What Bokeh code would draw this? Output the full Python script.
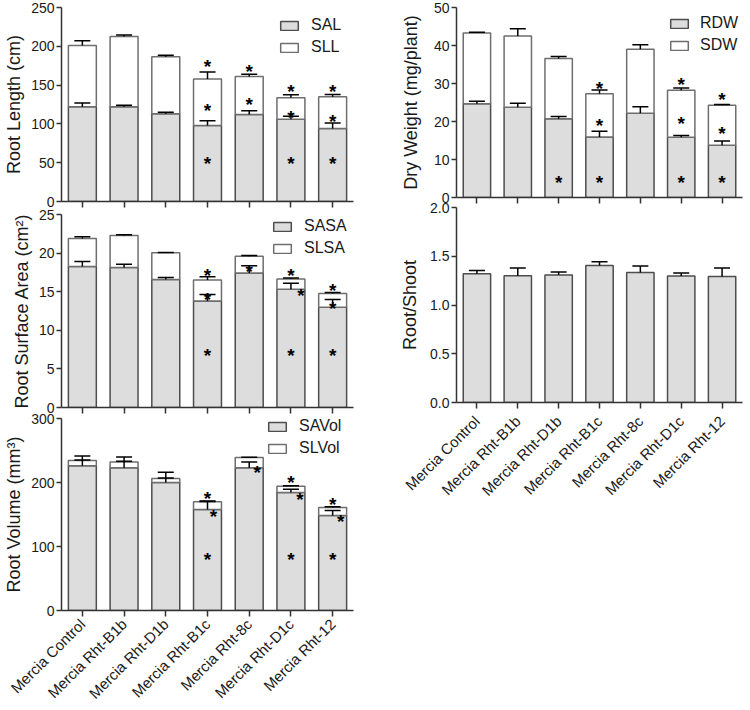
import math
from bokeh.plotting import figure
from bokeh.models import (FactorRange, Range1d, Whisker, TeeHead, ColumnDataSource,
                          Legend, LegendItem, NumeralTickFormatter)
from bokeh.layouts import row, column
from bokeh.embed import file_html
from bokeh.resources import INLINE
from bokeh.core.properties import value

# ---------------- data ----------------
cats = ["Mercia Control", "Mercia Rht-B1b", "Mercia Rht-D1b", "Mercia Rht-B1c",
        "Mercia Rht-8c", "Mercia Rht-D1c", "Mercia Rht-12"]

# Root length (cm)
sal = [122, 122, 113, 98, 112, 106, 94]
sal_err = [5, 2, 2, 6, 5, 4, 7]
sll = [79, 90.5, 73.6, 60, 49, 27.6, 41]
sll_err = [6, 2, 1.8, 9, 3, 4, 3]
rl_star_cat = ["Mercia Rht-B1c", "Mercia Rht-B1c", "Mercia Rht-B1c", "Mercia Rht-8c", "Mercia Rht-8c",
               "Mercia Rht-D1c", "Mercia Rht-D1c", "Mercia Rht-D1c", "Mercia Rht-12", "Mercia Rht-12", "Mercia Rht-12"]
rl_star_y = [186.6, 130.6, 61.6, 181, 138, 155, 120.7, 61.6, 155, 116, 61.6]
rl_star_dx = [0, 0, 0, 0, 0, 0, 0, 0, 0, 0, 0]

# Root surface area (cm2)
sasa = [18.27, 18.14, 16.59, 13.78, 17.41, 15.33, 13.0]
sasa_err = [0.63, 0.43, 0.26, 0.86, 0.95, 0.77, 1.0]
slsa = [3.63, 4.15, 3.45, 2.72, 2.19, 1.30, 1.77]
slsa_err = [0.22, 0.09, 0.05, 0.43, 0.1, 0.13, 0.13]
sa_star_cat = ["Mercia Rht-B1c", "Mercia Rht-B1c", "Mercia Rht-B1c", "Mercia Rht-8c",
               "Mercia Rht-D1c", "Mercia Rht-D1c", "Mercia Rht-D1c", "Mercia Rht-12", "Mercia Rht-12", "Mercia Rht-12"]
sa_star_y = [18.36, 15.33, 8.0, 18.9, 18.36, 15.77, 8.0, 16.5, 14.17, 8.0]
sa_star_dx = [0, 0, 0, 0, 0, 10, 0, 0, 0, 0]

# Root volume (mm3)
savol = [226, 222.9, 200, 158, 222.9, 184.4, 148.6]
savol_err = [15.6, 17, 16, 13, 9, 5, 7.5]
slvol = [8.3, 9.3, 6.2, 11.9, 16.1, 9.7, 12.4]
slvol_err = [1, 1, 1, 0.5, 0.5, 1, 1]
rv_star_cat = ["Mercia Rht-B1c", "Mercia Rht-B1c", "Mercia Rht-B1c", "Mercia Rht-8c",
               "Mercia Rht-D1c", "Mercia Rht-D1c", "Mercia Rht-D1c", "Mercia Rht-12", "Mercia Rht-12", "Mercia Rht-12"]
rv_star_y = [190.6, 163, 96, 230.6, 215, 189, 96, 180.5, 154, 96]
rv_star_dx = [0, 6, 0, 8, 0, 9, 0, 0, 8, 0]

# Dry weight (mg/plant)
rdw = [24.65, 23.77, 20.7, 15.93, 22.18, 15.85, 13.73]
rdw_err = [0.7, 1.0, 0.6, 1.5, 1.7, 0.45, 1.15]
sdw = [18.65, 18.73, 15.9, 11.37, 16.82, 12.35, 10.57]
sdw_err = [0.2, 1.9, 0.5, 1.0, 1.2, 0.6, 0.2]
dw_star_cat = ["Mercia Rht-D1b", "Mercia Rht-B1c", "Mercia Rht-B1c", "Mercia Rht-B1c",
               "Mercia Rht-D1c", "Mercia Rht-D1c", "Mercia Rht-D1c", "Mercia Rht-12", "Mercia Rht-12", "Mercia Rht-12"]
dw_star_y = [6.6, 31.4, 21.6, 6.6, 32.3, 22.2, 6.6, 28.3, 19.4, 6.6]
dw_star_dx = [0, 0, 0, 0, 0, 0, 0, 0, 0, 0]

# Root / shoot
rs = [1.32, 1.30, 1.307, 1.406, 1.334, 1.297, 1.293]
rs_err = [0.035, 0.08, 0.031, 0.038, 0.066, 0.031, 0.086]

FONT = "Liberation Sans"
GREY = "#dddddd"
AX = "#333333"


def make_fig(ymax, ticks, ylabel, top, fh, bottom, left, fw, right, show_x,
             label_standoff=4, xstandoff=5, shift=0):
    p = figure(x_range=FactorRange(factors=cats), y_range=Range1d(0, ymax),
               width=left + fw + right, height=top + fh + bottom,
               min_border_left=left, min_border_right=right,
               min_border_top=top, min_border_bottom=bottom,
               output_backend="svg", toolbar_location=None, tools="",
               margin=(shift, 0, 0, 0))
    p.outline_line_color = None
    p.background_fill_color = None
    p.border_fill_color = None
    p.xgrid.visible = False
    p.ygrid.visible = False
    for ax in (p.xaxis[0], p.yaxis[0]):
        ax.axis_line_color = AX
        ax.axis_line_width = 1.5
        ax.major_tick_line_color = AX
        ax.major_tick_line_width = 1.5
        ax.minor_tick_line_color = None
        ax.major_tick_in = 0
        ax.major_label_text_font = FONT
        ax.major_label_text_color = "#1a1a1a"
    p.xaxis.major_tick_out = 6
    p.yaxis.major_tick_out = 5
    p.yaxis.ticker = ticks
    p.yaxis.major_label_text_font_size = "14px"
    p.yaxis.major_label_standoff = 2
    p.yaxis.axis_label = ylabel
    p.yaxis.axis_label_text_font = FONT
    p.yaxis.axis_label_text_font_size = "18px"
    p.yaxis.axis_label_text_font_style = "normal"
    p.yaxis.axis_label_text_color = "#1a1a1a"
    p.yaxis.axis_label_standoff = label_standoff
    if show_x:
        p.xaxis.major_label_orientation = math.pi / 4
        p.xaxis.major_label_text_font_size = "15px"
        p.xaxis.major_label_standoff = xstandoff
    else:
        # tick marks only: labels are not painted
        p.xaxis.major_label_text_color = None
        p.xaxis.major_label_text_font_size = "1px"
        p.xaxis.major_label_standoff = 0
    return p


def stacked(p, low, low_err, up, up_err, names, star_cat, star_y, star_dx, loc, standoff=11):
    tot = [a + b for a, b in zip(low, up)]
    src = ColumnDataSource(dict(x=cats, low=low, tot=tot,
                                le=[a + e for a, e in zip(low, low_err)],
                                ue=[a + e for a, e in zip(tot, up_err)]))
    r1 = p.vbar(x="x", top="low", bottom=0, width=0.67, source=src,
                fill_color=GREY, line_color="#4d4d4d", line_width=1.5)
    r2 = p.vbar(x="x", top="tot", bottom="low", width=0.67, source=src,
                fill_color="white", line_color="#6e6e6e", line_width=1.5)
    for lo, hi in (("low", "le"), ("tot", "ue")):
        w = Whisker(base="x", lower=lo, upper=hi, source=src, level="annotation",
                    line_color="black", line_width=1.5,
                    upper_head=TeeHead(size=16, line_color="black", line_width=1.5),
                    lower_head=None)
        p.add_layout(w)
    if star_cat:
        ssrc = ColumnDataSource(dict(x=star_cat, y=star_y, dx=star_dx, t=["*"] * len(star_cat)))
        p.text(x="x", y="y", text="t", x_offset="dx", y_offset=10, source=ssrc,
               text_font=value(FONT), text_font_size=value("19px"), text_font_style="bold",
               text_align="center", text_baseline="alphabetic", text_color="black")
    leg = Legend(items=[LegendItem(label=names[0], renderers=[r1]),
                        LegendItem(label=names[1], renderers=[r2])],
                 location=loc, orientation="vertical",
                 glyph_width=22, glyph_height=11, label_height=20, spacing=2,
                 label_standoff=standoff, padding=0, margin=0,
                 label_text_font=FONT, label_text_font_size="16px", label_text_color="#1a1a1a",
                 border_line_color=None, background_fill_alpha=0)
    p.add_layout(leg)


# Left column (frame x 61..353)
p1 = make_fig(250, [0, 50, 100, 150, 200, 250], "Root Length (cm)", 7, 194, 10, 61, 292, 15, False)
stacked(p1, sal, sal_err, sll, sll_err, ["SAL", "SLL"], rl_star_cat, rl_star_y, rl_star_dx, (217, 144))

p2 = make_fig(25, [0, 5, 10, 15, 20, 25], "Root Surface Area (cm²)", 10, 193, 10, 61, 292, 15, False, shift=-7)
stacked(p2, sasa, sasa_err, slsa, slsa_err, ["SASA", "SLSA"], sa_star_cat, sa_star_y, sa_star_dx, (210, 149))

p3 = make_fig(300, [0, 100, 200, 300], "Root Volume (mm³)", 10, 192, 100, 61, 292, 15, True, shift=-9)
stacked(p3, savol, savol_err, slvol, slvol_err, ["SAVol", "SLVol"], rv_star_cat, rv_star_y, rv_star_dx, (205, 152))

# Right column (frame x 456..742)
p4 = make_fig(50, [0, 10, 20, 30, 40, 50], "Dry Weight (mg/plant)", 7, 190, 10, 88, 286, 8, False, label_standoff=10)
stacked(p4, rdw, rdw_err, sdw, sdw_err, ["RDW", "SDW"], dw_star_cat, dw_star_y, dw_star_dx, (212, 142), standoff=10)

p5 = make_fig(2.0, [0, 0.5, 1.0, 1.5, 2.0], "Root/Shoot", 10, 195, 112, 88, 286, 8, True,
              label_standoff=7, xstandoff=10, shift=-10)
p5.yaxis.formatter = NumeralTickFormatter(format="0.0")
src5 = ColumnDataSource(dict(x=cats, v=rs, ve=[a + e for a, e in zip(rs, rs_err)]))
p5.vbar(x="x", top="v", bottom=0, width=0.67, source=src5,
        fill_color=GREY, line_color="#4d4d4d", line_width=1.5)
p5.add_layout(Whisker(base="x", lower="v", upper="ve", source=src5, level="annotation",
                      line_color="black", line_width=1.5,
                      upper_head=TeeHead(size=16, line_color="black", line_width=1.5),
                      lower_head=None))

layout = row(column(p1, p2, p3), column(p4, p5))

open("out.html", "w").write(file_html(layout, INLINE))
